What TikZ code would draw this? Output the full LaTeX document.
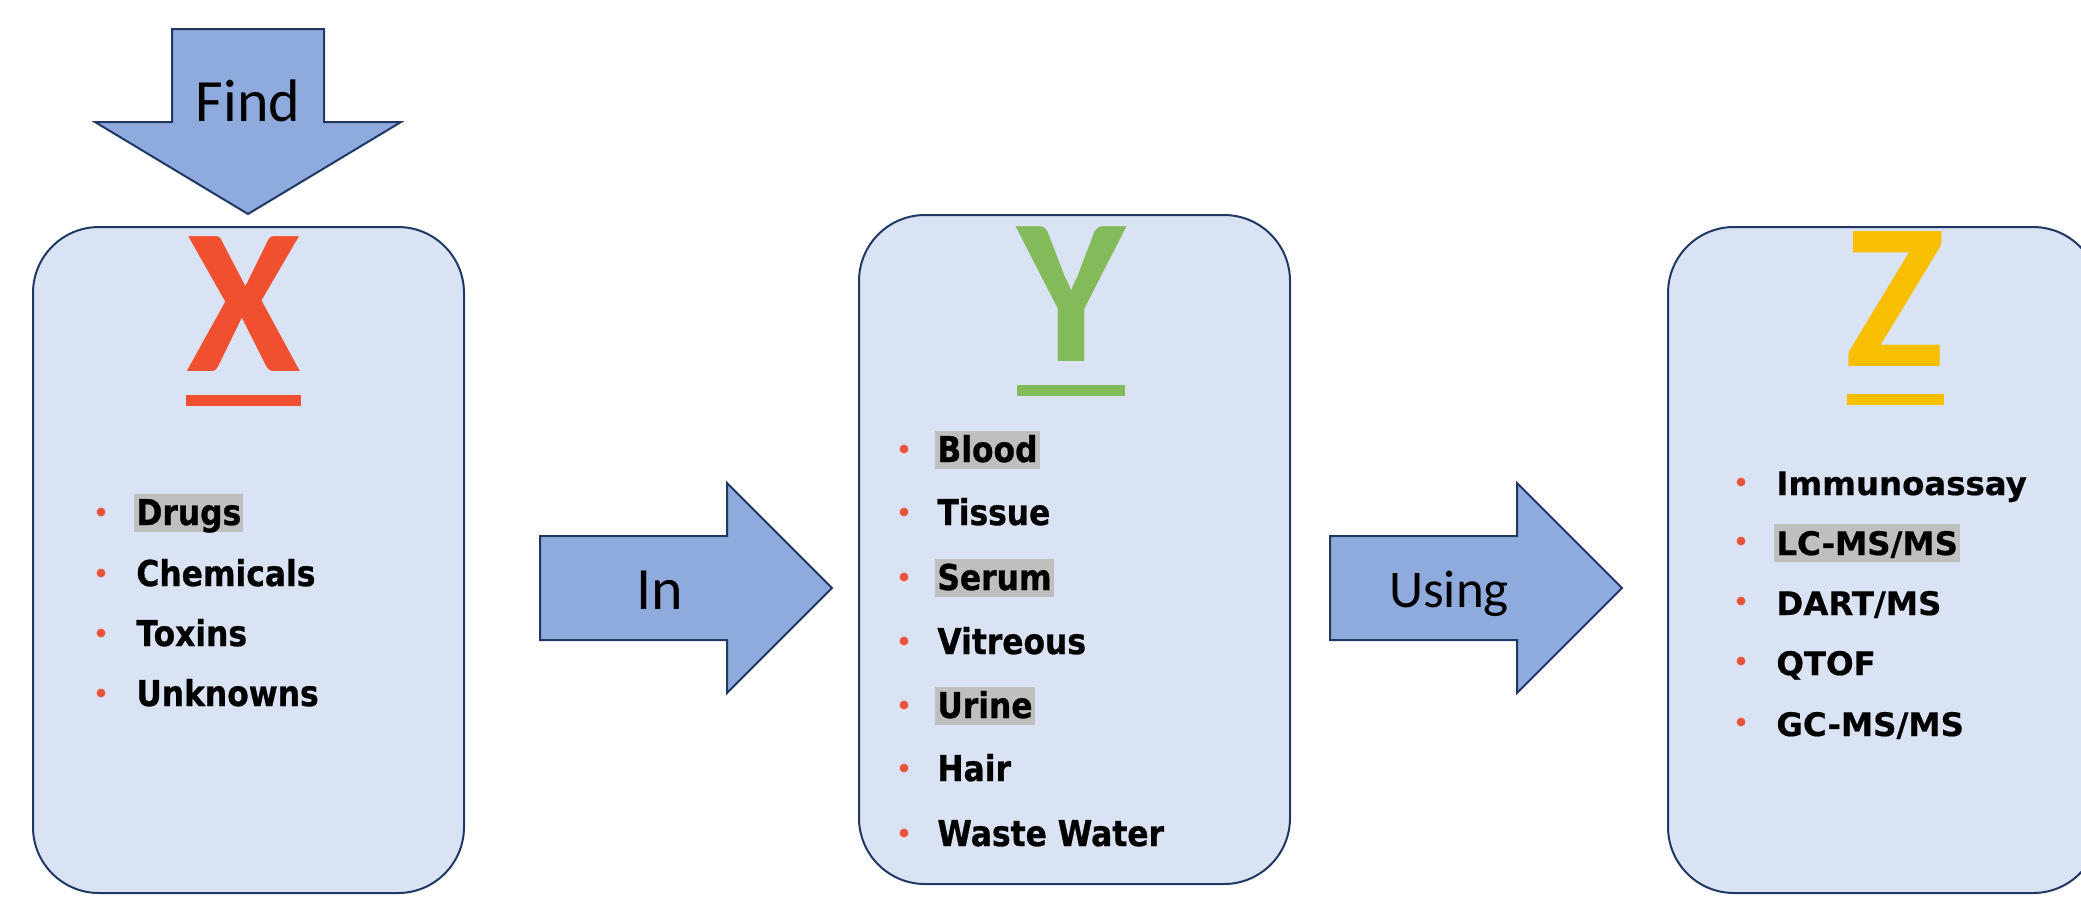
\documentclass[tikz,border=0pt]{standalone}
\usepackage{fontspec}
\setmainfont{Carlito}
\newfontfamily\listfont[FakeStretch=0.88,FakeBold=0.8]{DejaVu Sans}
\newfontfamily\zlistfont[FakeBold=0.6]{DejaVu Sans}
\definecolor{boxfill}{HTML}{DAE3F3}
\definecolor{boxline}{HTML}{203864}
\definecolor{arrfill}{HTML}{8FAADC}
\definecolor{xcol}{HTML}{F15030}
\definecolor{ycol}{HTML}{83BB5A}
\definecolor{zcol}{HTML}{F8BE00}
\definecolor{bulc}{HTML}{E8513A}
\definecolor{hlgray}{HTML}{BFBFBF}
\tikzset{
  panel/.style={draw=boxline, fill=boxfill, line width=1pt, rounded corners=33pt},
  blockarrow/.style={draw=boxline, fill=arrfill, line width=1pt, line join=miter},
  arrtext/.style={font=\fontsize{30}{36}\selectfont, anchor=base, inner sep=0pt},
  bigletter/.style={font=\fontsize{104}{110}\selectfont\bfseries, anchor=base, inner sep=0pt},
  bulletdot/.style={fill=bulc},
  itemtxt/.style={font=\listfont\bfseries\fontsize{17.8}{21}\selectfont, anchor=base west,
    inner xsep=1pt, inner ysep=0pt, text height=15.5pt, text depth=3.5pt},
  zitemtxt/.style={itemtxt, font=\zlistfont\bfseries\fontsize{16.2}{20}\selectfont},
  hl/.style={fill=hlgray}
}
\begin{document}
\begin{tikzpicture}[x=0.5pt,y=-0.5pt]
\useasboundingbox (0,0) rectangle (2081,896);
\clip (0,0) rectangle (2081,896);

% panels
\path[panel] (33,227) rectangle (464,893);
\path[panel] (859,215) rectangle (1290,884);
\path[panel] (1668,227) rectangle (2099,893);

% block arrows
\path[blockarrow] (172,29) -- (324,29) -- (324,122) -- (401,122) -- (248,214) -- (95,122) -- (172,122) -- cycle;
\path[blockarrow] (540,536) -- (727,536) -- (727,483) -- (832,588) -- (727,693) -- (727,640) -- (540,640) -- cycle;
\path[blockarrow] (1330,536) -- (1517,536) -- (1517,483) -- (1622,588) -- (1517,693) -- (1517,640) -- (1330,640) -- cycle;

\node[arrtext] (find) at (248,121) {Find};
\node[arrtext] (in) at (660,609) {In};
\node[arrtext, font=\fontsize{26.5}{32}\selectfont] (using) at (1449,607) {Using};

% big letters
\node[bigletter, text=xcol] (X) at (244,371) {X};
\fill[xcol] (186,395) rectangle (301,406);
\node[bigletter, text=ycol] (Y) at (1072,361) {Y};
\fill[ycol] (1017,385) rectangle (1125,396);
\node[bigletter, text=zcol] (Z) at (1895,366) {Z};
\fill[zcol] (1847,394) rectangle (1944,405);

% X list
\foreach \yy in {512,573,633,693} \fill[bulletdot] (101,\yy) circle (2.2pt);
\node[itemtxt, hl] (x1) at (134,525) {Drugs};
\node[itemtxt] (x2) at (134,586) {Chemicals};
\node[itemtxt] (x3) at (134,646) {Toxins};
\node[itemtxt] (x4) at (134,706) {Unknowns};

% Y list
\foreach \yy in {449,512,577,641,705,768,833} \fill[bulletdot] (904,\yy) circle (2.2pt);
\node[itemtxt, hl] (y1) at (935,462) {Blood};
\node[itemtxt] (y2) at (935,525) {Tissue};
\node[itemtxt, hl] (y3) at (935,590) {Serum};
\node[itemtxt] (y4) at (935,654) {Vitreous};
\node[itemtxt, hl] (y5) at (935,718) {Urine};
\node[itemtxt] (y6) at (935,781) {Hair};
\node[itemtxt] (y7) at (935,846) {Waste Water};

% Z list
\foreach \yy in {482,541,601,661,722} \fill[bulletdot] (1741,\yy) circle (2.2pt);
\node[zitemtxt] (z1) at (1774,495) {Immunoassay};
\node[zitemtxt, hl] (z2) at (1774,555) {LC-MS/MS};
\node[zitemtxt] (z3) at (1774,615) {DART/MS};
\node[zitemtxt] (z4) at (1774,675) {QTOF};
\node[zitemtxt] (z5) at (1774,736) {GC-MS/MS};
\end{tikzpicture}
\end{document}
